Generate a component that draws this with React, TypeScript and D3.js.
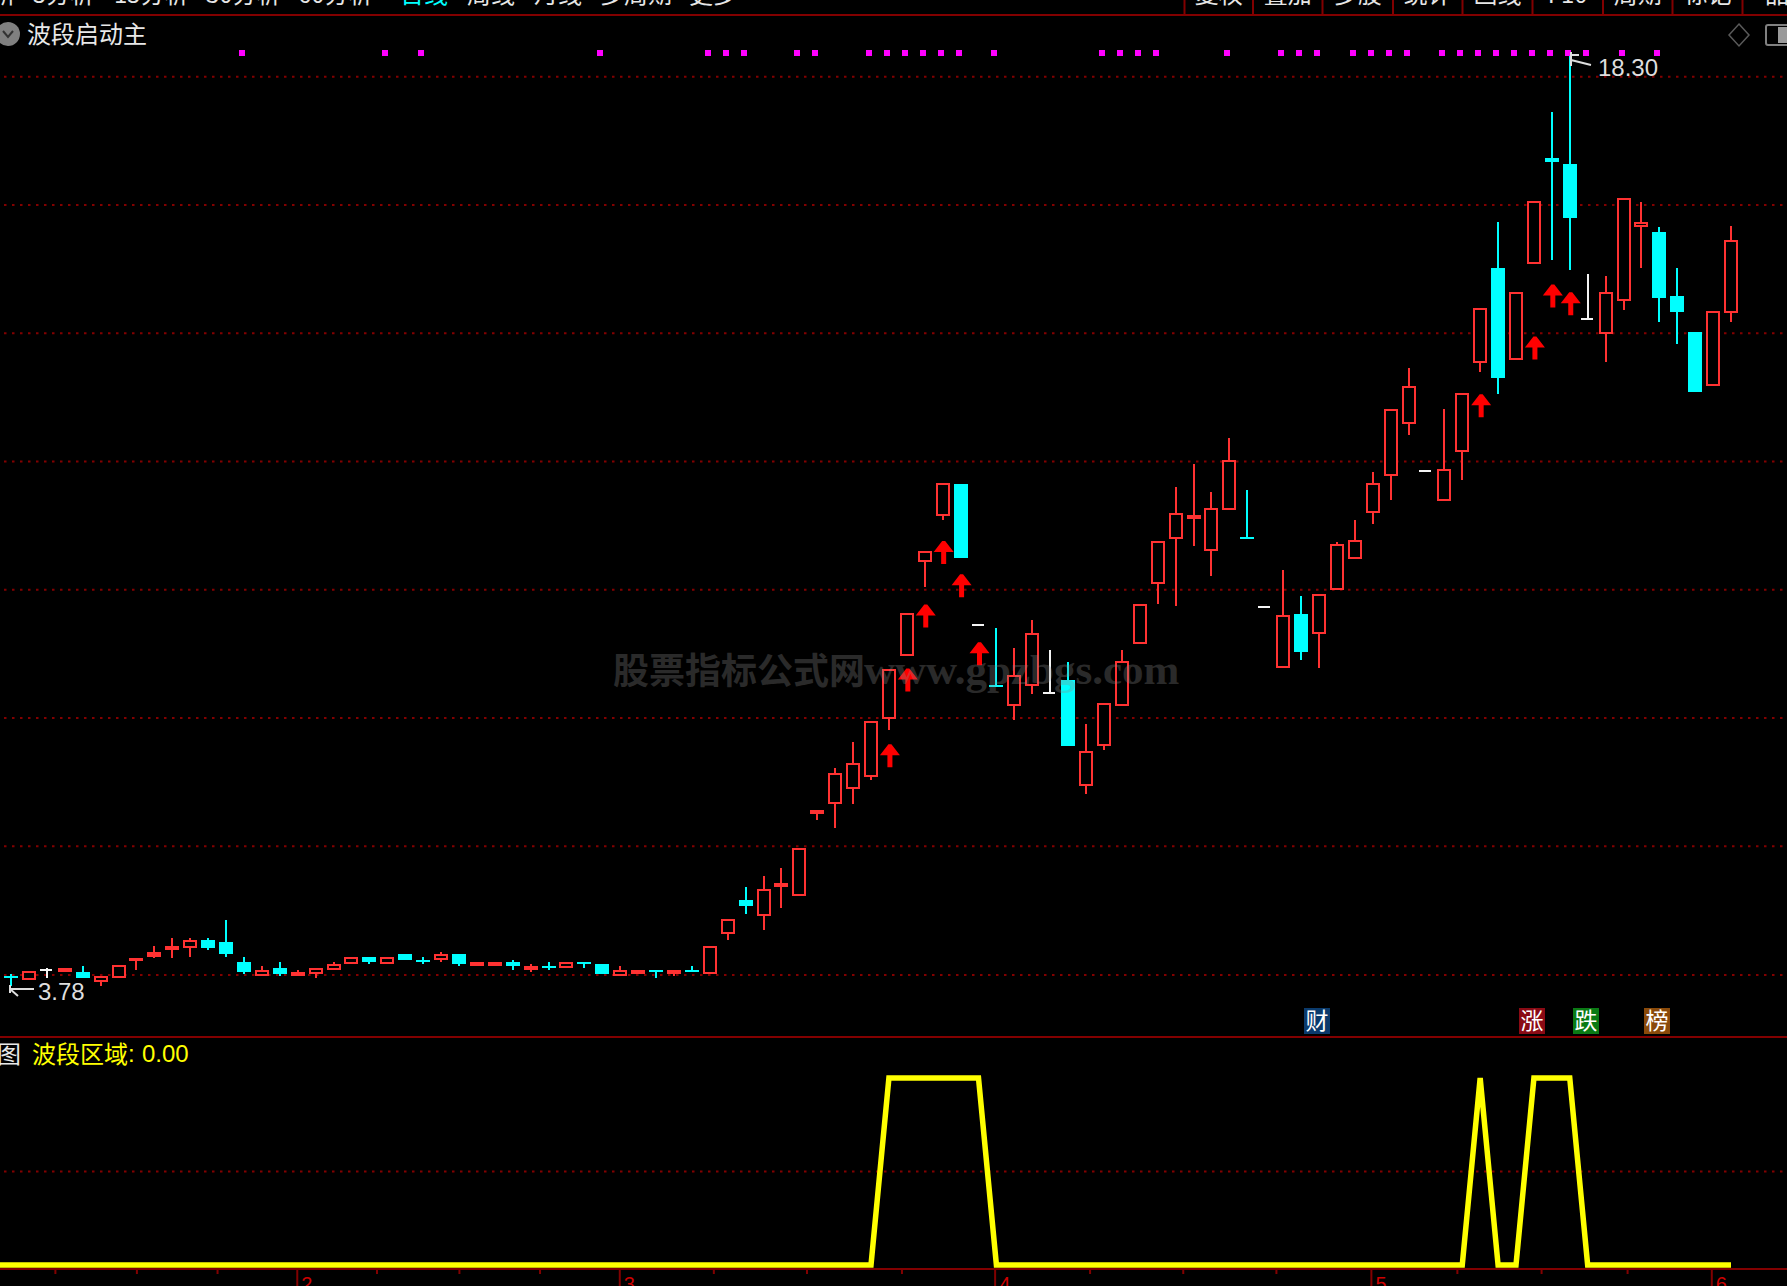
// @ts-nocheck
import React, { useRef, useEffect } from "react";
import * as d3 from "d3";

const WIDTH = 1787;
const HEIGHT = 1286;

const CJK = '"Noto Sans CJK SC", sans-serif';
const NUM = '"Liberation Sans", sans-serif';

// daily candles
const opens = [
  3.93, 3.87, 4.03, 4.0, 4.0, 3.84, 3.91, 4.18, 4.24, 4.34, 4.37, 4.49, 4.46, 4.15, 3.93, 4.06, 3.93, 3.96, 4.03, 4.13,
  4.24, 4.13, 4.28, 4.18, 4.18, 4.28, 4.09, 4.09, 4.15, 4.03, 4.09, 4.06, 4.15, 4.12, 3.93, 3.96, 4.03, 3.96, 4.03, 3.96,
  4.59, 5.12, 4.87, 5.32, 5.19, 6.46, 6.62, 6.85, 7.04, 7.94, 8.93, 10.4, 11.11, 11.61, 9.41, 8.48, 8.15, 8.46, 8.35, 8.55,
  6.9, 7.53, 8.15, 9.12, 10.05, 10.75, 11.06, 10.56, 11.2, 10.79, 9.69, 8.74, 9.58, 9.27, 9.96, 10.44, 11.15, 11.74, 12.55, 11.81,
  11.34, 12.11, 13.49, 14.98, 13.55, 15.04, 16.69, 16.6, 14.18, 13.95, 14.46, 15.61, 15.54, 14.54, 13.98, 13.14, 14.27,
];
const highs = [
  3.96, 4.02, 4.06, 4.06, 4.09, 3.93, 4.11, 4.21, 4.4, 4.53, 4.53, 4.53, 4.81, 4.24, 4.09, 4.15, 4.03, 4.06, 4.15, 4.24,
  4.24, 4.24, 4.28, 4.24, 4.31, 4.28, 4.15, 4.15, 4.18, 4.12, 4.15, 4.15, 4.15, 4.12, 4.09, 4.03, 4.03, 4.03, 4.09, 4.4,
  4.83, 5.33, 5.49, 5.62, 5.93, 6.52, 7.18, 7.58, 7.92, 8.73, 9.6, 10.57, 11.63, 11.61, 9.41, 9.36, 9.05, 9.49, 9.02, 8.83,
  7.86, 8.19, 9.02, 9.73, 10.72, 11.57, 11.92, 11.48, 12.32, 11.51, 9.69, 10.27, 9.86, 9.89, 10.7, 11.05, 11.8, 12.78, 13.42, 11.81,
  12.78, 13.03, 14.35, 15.69, 14.6, 16.03, 17.41, 18.3, 14.88, 14.85, 16.07, 16.0, 15.62, 14.98, 13.98, 14.31, 15.63,
];
const lows = [
  3.78, 3.87, 3.9, 4.0, 3.9, 3.78, 3.91, 4.03, 4.21, 4.21, 4.24, 4.34, 4.24, 3.96, 3.93, 3.93, 3.93, 3.9, 4.03, 4.13,
  4.12, 4.13, 4.18, 4.12, 4.15, 4.09, 4.09, 4.09, 4.03, 4.0, 4.03, 4.06, 4.06, 3.96, 3.93, 3.96, 3.9, 3.93, 4.0, 3.96,
  4.49, 4.9, 4.65, 5.0, 5.19, 6.37, 6.24, 6.62, 6.99, 7.77, 8.93, 10.01, 11.05, 10.46, 9.41, 8.47, 7.93, 8.33, 8.35, 7.52,
  6.77, 7.46, 8.15, 9.12, 9.74, 9.7, 10.64, 10.17, 11.2, 10.78, 9.69, 8.74, 8.86, 8.74, 9.96, 10.44, 10.98, 11.36, 12.38, 11.81,
  11.34, 11.67, 13.35, 13.01, 13.55, 15.04, 15.1, 14.95, 14.18, 13.51, 14.32, 14.98, 14.14, 13.79, 13.04, 13.14, 14.14,
];
const closes = [
  3.92, 4.02, 4.03, 4.06, 3.9, 3.93, 4.11, 4.21, 4.31, 4.4, 4.49, 4.37, 4.28, 4.0, 4.03, 3.96, 4.0, 4.06, 4.12, 4.24,
  4.15, 4.24, 4.18, 4.15, 4.28, 4.12, 4.15, 4.15, 4.09, 4.09, 4.06, 4.15, 4.13, 3.96, 4.03, 4.03, 4.01, 4.03, 4.0, 4.4,
  4.83, 5.02, 5.3, 5.39, 5.93, 6.52, 7.1, 7.26, 7.92, 8.73, 9.6, 10.57, 11.63, 10.46, 9.41, 8.47, 8.63, 9.29, 8.35, 7.52,
  7.45, 8.19, 8.85, 9.73, 10.72, 11.16, 11.13, 11.23, 11.98, 10.78, 9.69, 9.57, 8.99, 9.89, 10.67, 10.73, 11.63, 12.78, 13.13, 11.81,
  11.85, 13.03, 14.35, 13.27, 14.6, 16.03, 16.63, 15.76, 14.18, 14.6, 16.07, 15.69, 14.51, 14.29, 13.04, 14.31, 15.41,
];

// lower pane, 波段区域
const zoneValues = [
  0, 0, 0, 0, 0, 0, 0, 0, 0, 0, 0, 0, 0, 0, 0, 0, 0, 0, 0, 0,
  0, 0, 0, 0, 0, 0, 0, 0, 0, 0, 0, 0, 0, 0, 0, 0, 0, 0, 0, 0,
  0, 0, 0, 0, 0, 0, 0, 0, 0, 1, 1, 1, 1, 1, 1, 0, 0, 0, 0, 0,
  0, 0, 0, 0, 0, 0, 0, 0, 0, 0, 0, 0, 0, 0, 0, 0, 0, 0, 0, 0,
  0, 0, 1, 0, 0, 1, 1, 1, 0, 0, 0, 0, 0, 0, 0, 0, 0,
];

// signals
const dotDays = [
  13, 21, 23, 33, 39, 40, 41, 44, 45, 48, 49, 50, 51, 52, 53, 55, 61, 62, 63, 64, 68, 71, 72, 73, 75, 76, 77, 78,
  80, 81, 82, 83, 84, 85, 86, 87, 88, 90, 92,
];
const arrowDays = [49, 50, 51, 52, 53, 54, 82, 85, 86, 87];
const arrowTips = [7.55, 8.73, 9.73, 10.72, 10.2, 9.14, 13.01, 13.91, 14.72, 14.6];

const tagDays = [73, 85, 88, 92];
const tagLabels = ["财", "涨", "跌", "榜"];
const tagColors = ["#0a3a6c", "#8a0a14", "#0a7a14", "#8a4a0a"];

// axis
const monthTicks = [15.95, 33.95, 54.9, 75.9, 94.9];
const monthLabels = ["2", "3", "4", "5", "6"];
const minorTicks = [2.45, 7, 11.5, 20.4, 25, 29.5, 39.2, 44.4, 49.7, 60.2, 65.4, 70.6, 80.7, 85.4, 90.2];

const priceGrid = [17.96, 15.96, 13.96, 11.96, 9.96, 7.96, 5.96, 3.95];

// clipped toolbar along the top edge
const menuLeft = ["1分析", "5分析", "15分析", "30分析", "60分析", "日线", "周线", "月线", "多周期", "更多", "·"];
const menuLeftX = [-45, 33, 114, 206, 298, 400, 467, 534, 600, 689, 742];
const menuRight = ["复权", "叠加", "多股", "统计", "画线", "F10", "周期", "标记", "品种"];
const menuSeps = [1184.5, 1253, 1322.5, 1393, 1462.5, 1532.5, 1603, 1672.5, 1742.5];

const App = () => {
  const svgRef = useRef(null);

  useEffect(() => {
    const svg = d3.select(svgRef.current);
    svg.selectAll("*").remove();

    const x = d3.scaleLinear().domain([0, 96]).range([11, 1731]);
    const y = d3.scaleLinear().domain([3.78, 18.3]).range([986, 55]);
    const yZone = d3.scaleLinear().domain([0, 1]).range([1265, 1078]);

    const days = d3.range(opens.length);
    const RED = "#ff3232";
    const CYAN = "#00ffff";
    const WHITE = "#f4f4f4";
    const DARK = "#820000";

    svg.append("rect").attr("width", WIDTH).attr("height", HEIGHT).attr("fill", "#000");

    // toolbar text goes first so the rest can sit over it
    const menu = svg.append("g").style("font-family", CJK).style("font-size", "24px");
    menu
      .selectAll("text.l")
      .data(menuLeft)
      .join("text")
      .attr("x", (d, i) => menuLeftX[i])
      .attr("y", 3)
      .attr("fill", (d) => (d === "日线" ? CYAN : "#e6e6e6"))
      .text((d) => d);
    menu
      .selectAll("text.r")
      .data(menuRight)
      .join("text")
      .attr("class", "r")
      .attr("x", (d, i) => (i < 8 ? (menuSeps[i] + menuSeps[i + 1]) / 2 : 1765))
      .attr("y", 3)
      .attr("text-anchor", (d, i) => (i < 8 ? "middle" : "start"))
      .attr("fill", "#e6e6e6")
      .text((d) => d);

    svg
      .append("g")
      .selectAll("line")
      .data(menuSeps)
      .join("line")
      .attr("x1", (d) => d)
      .attr("x2", (d) => d)
      .attr("y1", 0)
      .attr("y2", 15)
      .attr("stroke", DARK)
      .attr("stroke-width", 2);

    // pane borders
    svg
      .append("g")
      .selectAll("line")
      .data([15, 1037, 1269])
      .join("line")
      .attr("x1", 0)
      .attr("x2", WIDTH)
      .attr("y1", (d) => d)
      .attr("y2", (d) => d)
      .attr("stroke", DARK)
      .attr("stroke-width", 2);

    // dotted grid
    const gridYs = priceGrid.map((d) => y(d)).concat([yZone(0.5)]);
    svg
      .append("g")
      .selectAll("line")
      .data(gridYs)
      .join("line")
      .attr("x1", 4)
      .attr("x2", WIDTH)
      .attr("y1", (d) => d)
      .attr("y2", (d) => d)
      .attr("stroke", DARK)
      .attr("stroke-width", 2)
      .attr("stroke-dasharray", "2.5 5.5");

    // candles
    const candles = svg.append("g").attr("shape-rendering", "crispEdges");
    days.forEach((i) => {
      const o = opens[i];
      const c = closes[i];
      const cx = Math.round(x(i));
      const color = c > o ? RED : c < o ? CYAN : WHITE;
      const top = y(Math.max(o, c));
      const bot = y(Math.min(o, c));
      const g = candles.append("g");

      g.append("rect").attr("x", cx - 1).attr("width", 2).attr("y", y(highs[i])).attr("height", Math.max(0, top - y(highs[i]))).attr("fill", color);
      g.append("rect").attr("x", cx - 1).attr("width", 2).attr("y", bot).attr("height", Math.max(0, y(lows[i]) - bot)).attr("fill", color);

      if (c > o) {
        // hollow up candle, stroke kept inside the read edges
        g.append("rect")
          .attr("x", cx - 6)
          .attr("width", 12)
          .attr("y", top + 1)
          .attr("height", Math.max(0.5, bot - top - 2))
          .attr("fill", bot - top < 5 ? RED : "#000")
          .attr("stroke", RED)
          .attr("stroke-width", 2);
      } else if (c < o) {
        g.append("rect")
          .attr("x", cx - 7)
          .attr("width", 14)
          .attr("y", top)
          .attr("height", Math.max(2, bot - top))
          .attr("fill", CYAN);
      } else {
        g.append("rect").attr("x", cx - 7).attr("width", 12).attr("y", top - 1).attr("height", 2).attr("fill", WHITE);
      }
    });

    // magenta signal dots along the top
    svg
      .append("g")
      .attr("shape-rendering", "crispEdges")
      .selectAll("rect")
      .data(dotDays)
      .join("rect")
      .attr("x", (d) => Math.round(x(d)) - 5)
      .attr("y", 50)
      .attr("width", 6)
      .attr("height", 6)
      .attr("fill", "#ff00ff");

    // red up arrows
    const arrowPath = (cx, tip) => {
      const p = d3.path();
      p.moveTo(cx - 1.5, tip);
      p.lineTo(cx + 1.5, tip);
      p.lineTo(cx + 10, tip + 11);
      p.lineTo(cx + 2.5, tip + 11);
      p.lineTo(cx + 2.5, tip + 23);
      p.lineTo(cx - 2.5, tip + 23);
      p.lineTo(cx - 2.5, tip + 11);
      p.lineTo(cx - 10, tip + 11);
      p.closePath();
      return p.toString();
    };
    svg
      .append("g")
      .selectAll("path")
      .data(arrowDays)
      .join("path")
      .attr("d", (d, i) => arrowPath(x(d) + 1, y(arrowTips[i])))
      .attr("fill", "#ff0000");

    // watermark
    const mark = svg.append("g").attr("fill", "#8c8c8c").attr("opacity", 0.3);
    mark
      .append("text")
      .attr("x", 613)
      .attr("y", 684)
      .style("font-family", CJK)
      .style("font-weight", 700)
      .style("font-size", "36px")
      .text("股票指标公式网");
    mark
      .append("text")
      .attr("x", 864)
      .attr("y", 684)
      .style("font-family", '"Liberation Serif", serif')
      .style("font-weight", 700)
      .style("font-size", "43px")
      .text("www.gpzbgs.com");

    // high and low callouts
    const callouts = svg.append("g").attr("fill", "#dedede").attr("stroke", "none");
    callouts.append("text").attr("x", 38).attr("y", 1000).style("font-family", NUM).style("font-size", "24px").text("3.78");
    callouts.append("text").attr("x", 1598).attr("y", 76).style("font-family", NUM).style("font-size", "24px").text("18.30");
    svg
      .append("path")
      .attr("d", "M10 989H34M10 985V993M10 989L18 996")
      .attr("fill", "none")
      .attr("stroke", "#dedede")
      .attr("stroke-width", 2);
    svg
      .append("path")
      .attr("d", "M1571 55H1579M1571 60L1591 65M1571 52V66")
      .attr("fill", "none")
      .attr("stroke", "#dedede")
      .attr("stroke-width", 2);

    // news tags above the pane border
    const tags = svg.append("g");
    tagDays.forEach((d, i) => {
      const cx = Math.round(x(d)) - 2;
      tags.append("rect").attr("x", cx - 13).attr("y", 1008).attr("width", 26).attr("height", 26).attr("fill", tagColors[i]);
      tags
        .append("text")
        .attr("x", cx)
        .attr("y", 1029)
        .attr("text-anchor", "middle")
        .attr("fill", "#fff")
        .style("font-family", CJK)
        .style("font-size", "23px")
        .text(tagLabels[i]);
    });

    // title row
    svg.append("ellipse").attr("cx", 8).attr("cy", 34).attr("rx", 12).attr("ry", 12).attr("fill", "#808080");
    svg.append("path").attr("d", "M3 31L8 37L13 31").attr("fill", "none").attr("stroke", "#333").attr("stroke-width", 2);
    svg
      .append("text")
      .attr("x", 27)
      .attr("y", 43)
      .attr("fill", "#e8e8e8")
      .style("font-family", CJK)
      .style("font-size", "24px")
      .text("波段启动主");

    // top right icons
    svg
      .append("path")
      .attr("d", "M1739 24L1749 35L1739 46L1729 35Z")
      .attr("fill", "none")
      .attr("stroke", "#5a5a5a")
      .attr("stroke-width", 1.5);
    svg
      .append("rect")
      .attr("x", 1766)
      .attr("y", 25)
      .attr("width", 30)
      .attr("height", 20)
      .attr("rx", 2)
      .attr("fill", "none")
      .attr("stroke", "#808080")
      .attr("stroke-width", 2);
    svg.append("rect").attr("x", 1778).attr("y", 27).attr("width", 9).attr("height", 16).attr("fill", "#9a9a9a");

    // lower pane
    svg
      .append("text")
      .attr("x", -3)
      .attr("y", 1063)
      .attr("fill", "#e8e8e8")
      .style("font-family", CJK)
      .style("font-size", "24px")
      .text("图");
    svg
      .append("text")
      .attr("x", 32)
      .attr("y", 1063)
      .attr("fill", "#ffff00")
      .style("font-family", CJK)
      .style("font-size", "24px")
      .text("波段区域");
    svg
      .append("text")
      .attr("x", 128)
      .attr("y", 1062)
      .attr("fill", "#ffff00")
      .style("font-family", NUM)
      .style("font-size", "24px")
      .text(":");
    svg
      .append("text")
      .attr("x", 142)
      .attr("y", 1062)
      .attr("fill", "#ffff00")
      .style("font-family", NUM)
      .style("font-size", "24px")
      .text(d3.format(".2f")(zoneValues[zoneValues.length - 1]));

    const zoneLine = d3
      .line()
      .x((d, i) => (i === 0 ? 0 : x(i)))
      .y((d) => yZone(d));
    svg
      .append("path")
      .attr("d", zoneLine(zoneValues))
      .attr("fill", "none")
      .attr("stroke", "#ffff00")
      .attr("stroke-width", 5.5)
      .attr("stroke-linejoin", "miter");

    // date axis, only ticks and clipped month numbers
    const axisMinor = d3.axisBottom(x).tickValues(minorTicks).tickSize(5).tickFormat("");
    const axisMonth = d3
      .axisBottom(x)
      .tickValues(monthTicks)
      .tickSize(18)
      .tickFormat((d, i) => monthLabels[i]);
    [axisMinor, axisMonth].forEach((ax) => {
      svg
        .append("g")
        .attr("transform", "translate(0,1269)")
        .call(ax)
        .call((g) => g.select(".domain").remove())
        .call((g) => g.selectAll("line").attr("stroke", DARK).attr("stroke-width", 2))
        .call((g) =>
          g
            .selectAll("text")
            .attr("x", 4)
            .attr("y", 22)
            .attr("dy", 0)
            .attr("text-anchor", "start")
            .attr("fill", "#cc0000")
            .style("font-family", NUM)
            .style("font-size", "20px")
        );
    });
  }, []);

  return (
    <svg
      ref={svgRef}
      width={WIDTH}
      height={HEIGHT}
      viewBox={`0 0 ${WIDTH} ${HEIGHT}`}
      style={{ position: "fixed", left: 0, top: 0, display: "block", background: "#000" }}
    />
  );
};

export default App;
